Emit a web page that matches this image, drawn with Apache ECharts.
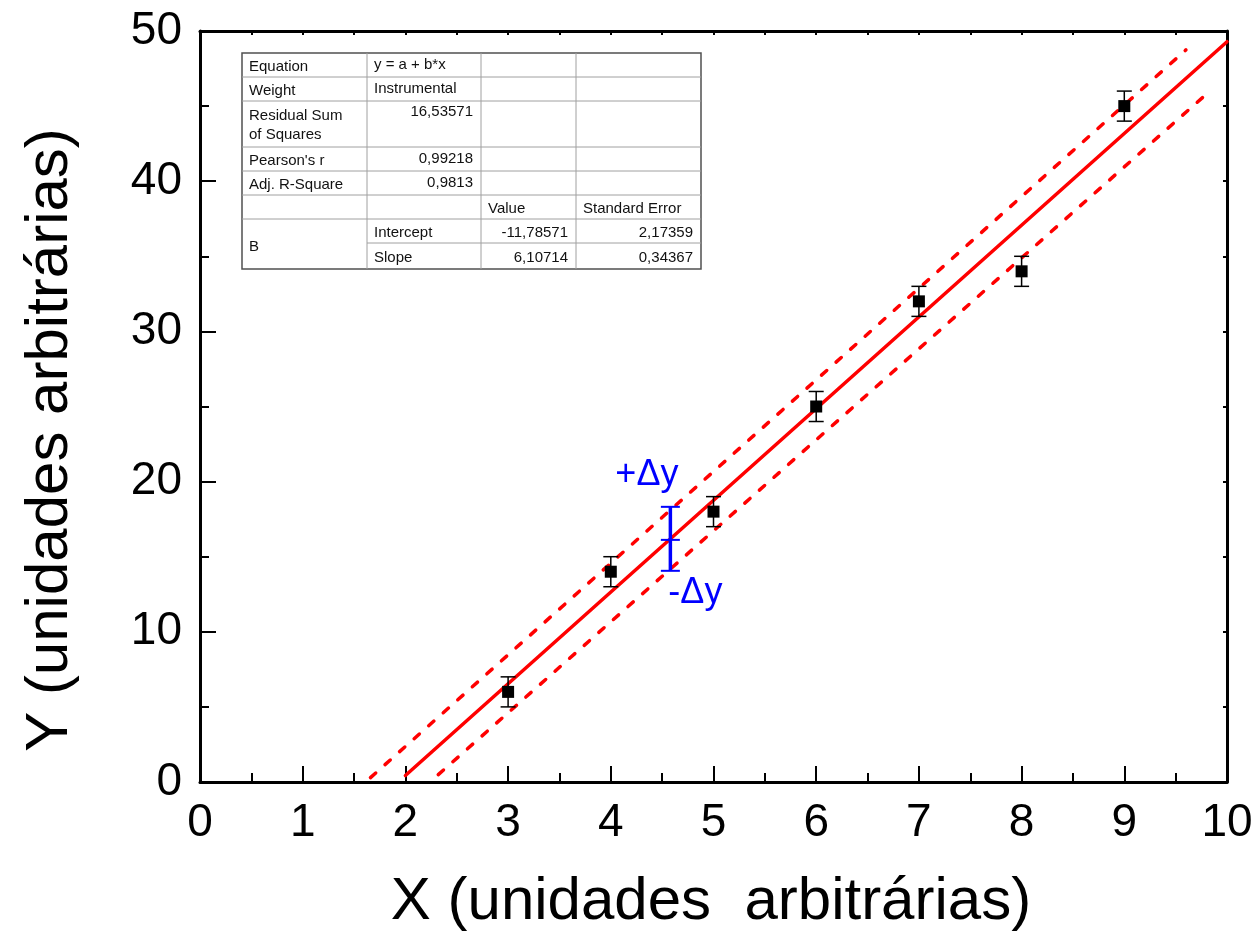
<!DOCTYPE html>
<html>
<head>
<meta charset="utf-8">
<title>Ajuste linear</title>
<script src="https://cdn.jsdelivr.net/npm/echarts@6/dist/echarts.min.js"></script>
<style>
  html, body { margin: 0; padding: 0; background: #fff; }
  #chart { width: 1256px; height: 935px; }
</style>
</head>
<body>
<div id="chart"></div>
<script>
// Measured points with their uncertainties
const xValues = [3, 4, 5, 6, 7, 8, 9];
const yValues = [6, 14, 18, 25, 32, 34, 45];
const yErrors = [1, 1, 1, 1, 1, 1, 1];

// Linear fit y = a + b*x
const fitIntercept = -11.78571;
const fitSlope = 6.10714;
const fitRangeX = [2, 10];

// Dashed bounds (start and end points)
const upperBound = [[1.66, 0.29], [9.60, 48.74]];
const lowerBound = [[2.32, 0.49], [9.80, 45.8]];

// Δy marker: x, lower end, centre, upper end
const deltaMarker = [4.58, 14.06, 16.12, 18.32];

// Axis ticks
const xTicks = { min: 0, max: 10, step: 1 };
const yTicks = { min: 0, max: 50, step: 10 };

// Fit report table
const tableRows = [
  ['Equation', 'y = a + b*x', '', ''],
  ['Weight', 'Instrumental', '', ''],
  ['Residual Sum\nof Squares', '16,53571', '', ''],
  ["Pearson's r", '0,99218', '', ''],
  ['Adj. R-Square', '0,9813', '', ''],
  ['', '', 'Value', 'Standard Error'],
  ['B', 'Intercept', '-11,78571', '2,17359'],
  ['', 'Slope', '6,10714', '0,34367']
];

const FONT = "'Liberation Sans', Arial, sans-serif";

const pointData = xValues.map((x, i) => [x, yValues[i], yErrors[i]]);
const fitData = fitRangeX.map(x => [x, fitIntercept + fitSlope * x]);

// ---- table graphics ----
const colX = [242, 367, 481, 576, 701];
const rowY = [53, 77, 101, 147, 171, 195, 219, 243, 269];
const tableEls = [];
const gridColor = '#a0a0a0';
function hLine(y, x1, x2) {
  tableEls.push({ type: 'line', shape: { x1: x1, y1: y, x2: x2, y2: y }, style: { stroke: gridColor, lineWidth: 1 } });
}
function vLine(x, y1, y2) {
  tableEls.push({ type: 'line', shape: { x1: x, y1: y1, x2: x, y2: y2 }, style: { stroke: gridColor, lineWidth: 1 } });
}
tableEls.push({ type: 'rect', shape: { x: colX[0], y: rowY[0], width: colX[4] - colX[0], height: rowY[8] - rowY[0] },
  style: { fill: '#fff', stroke: '#505050', lineWidth: 1.5 }, z: 0 });
for (let r = 1; r < 8; r++) {
  if (r === 7) hLine(rowY[r], colX[1], colX[4]);
  else hLine(rowY[r], colX[0], colX[4]);
}
for (let c = 1; c < 4; c++) vLine(colX[c], rowY[0], rowY[8]);

function cellText(text, x, y, align) {
  tableEls.push({ type: 'text', x: x, y: y, z: 2,
    style: { text: text, fill: '#111', font: '15px ' + FONT, textAlign: align, textVerticalAlign: 'middle' } });
}
const padL = 7, padR = 8;
tableRows.forEach((row, r) => {
  row.forEach((txt, c) => {
    if (!txt) return;
    let cy = (rowY[r] + rowY[r + 1]) / 2 + 1.5;
    if (r === 6 && c === 0) cy = (rowY[6] + rowY[8]) / 2 + 3;
    const numeric = /^-?\d/.test(txt);
    if (r === 2 && c === 0) {
      const parts = txt.split('\n');
      cellText(parts[0], colX[0] + padL, rowY[2] + 15, 'left');
      cellText(parts[1], colX[0] + padL, rowY[2] + 34, 'left');
      return;
    }
    if (r === 2 && c === 1) cy = rowY[2] + 12.5;
    if (c >= 1 && r <= 4) cy -= 1.5;
    if (numeric) cellText(txt, colX[c + 1] - padR, cy, 'right');
    else cellText(txt, colX[c] + padL, cy, 'left');
  });
});

const chart = echarts.init(document.getElementById('chart'), null, { renderer: 'canvas' });

const axisLineStyle = { color: '#000', width: 3 };
function mainAxis(t, pos, isY) {
  return {
    type: 'value', position: pos, min: t.min, max: t.max, interval: t.step,
    axisLine: { show: true, onZero: false, lineStyle: axisLineStyle },
    axisTick: { show: true, inside: true, length: 16, lineStyle: { color: '#000', width: 2 } },
    minorTick: { show: true, splitNumber: 2, length: 9, lineStyle: { color: '#000', width: 2 } },
    axisLabel: { show: true, inside: false, color: '#000', fontSize: 46, fontFamily: FONT, margin: isY ? 18 : 18 },
    splitLine: { show: false }, minorSplitLine: { show: false }
  };
}
function mirrorAxis(t, pos) {
  return {
    type: 'value', position: pos, min: t.min, max: t.max, interval: t.step,
    axisLine: { show: true, onZero: false, lineStyle: axisLineStyle },
    axisTick: { show: true, inside: true, length: 4, lineStyle: { color: '#000', width: 2 } },
    minorTick: { show: true, splitNumber: 2, length: 4, lineStyle: { color: '#000', width: 2 } },
    axisLabel: { show: false }, splitLine: { show: false }
  };
}

chart.setOption({
  animation: false,
  backgroundColor: '#fff',
  grid: { left: 200, right: 29, top: 31, bottom: 153, containLabel: false },
  xAxis: [mainAxis(xTicks, 'bottom', false), mirrorAxis(xTicks, 'top')],
  yAxis: [mainAxis(yTicks, 'left', true), mirrorAxis(yTicks, 'right')],
  graphic: [
    { type: 'text', x: 711, y: 902, style: { text: 'X (unidades  arbitrárias)', fill: '#000', font: '60px ' + FONT, textAlign: 'center', textVerticalAlign: 'middle' } },
    { type: 'text', x: 50, y: 440, rotation: Math.PI / 2, style: { text: 'Y (unidades arbitrárias)', fill: '#000', font: '60px ' + FONT, textAlign: 'center', textVerticalAlign: 'middle' } },
    { type: 'group', children: tableEls, z: 100 }
  ],
  series: [
    {
      name: 'fit', type: 'line', data: fitData, showSymbol: false, symbol: 'none',
      lineStyle: { color: '#ff0000', width: 3.5, cap: 'round' }, z: 3
    },
    {
      name: 'upper', type: 'line', data: upperBound, showSymbol: false, symbol: 'none',
      lineStyle: { color: '#ff0000', width: 3.5, type: [7, 12.5], cap: 'round' }, z: 3
    },
    {
      name: 'lower', type: 'line', data: lowerBound, showSymbol: false, symbol: 'none',
      lineStyle: { color: '#ff0000', width: 3.5, type: [7, 12.5], cap: 'round' }, z: 3
    },
    {
      name: 'errors', type: 'custom', data: pointData, z: 4,
      renderItem: function (params, api) {
        const x = api.value(0), y = api.value(1), e = api.value(2);
        const top = api.coord([x, y + e]);
        const bot = api.coord([x, y - e]);
        const hw = 7.5;
        const st = { stroke: '#000', lineWidth: 1.5, fill: null };
        return {
          type: 'group',
          children: [
            { type: 'line', shape: { x1: top[0], y1: top[1], x2: bot[0], y2: bot[1] }, style: st },
            { type: 'line', shape: { x1: top[0] - hw, y1: top[1], x2: top[0] + hw, y2: top[1] }, style: st },
            { type: 'line', shape: { x1: bot[0] - hw, y1: bot[1], x2: bot[0] + hw, y2: bot[1] }, style: st }
          ]
        };
      }
    },
    {
      name: 'points', type: 'scatter', data: pointData, symbol: 'rect', symbolSize: 12,
      itemStyle: { color: '#000', opacity: 1 }, z: 5
    },
    {
      name: 'delta', type: 'custom', data: [deltaMarker], z: 6,
      renderItem: function (params, api) {
        const x = api.value(0);
        const lo = api.coord([x, api.value(1)]);
        const mid = api.coord([x, api.value(2)]);
        const hi = api.coord([x, api.value(3)]);
        const hw = 9.5;
        const cap = { stroke: '#0000ff', lineWidth: 2 };
        return {
          type: 'group',
          children: [
            { type: 'line', shape: { x1: hi[0], y1: hi[1], x2: lo[0], y2: lo[1] }, style: { stroke: '#0000ff', lineWidth: 3.5 } },
            { type: 'line', shape: { x1: hi[0] - hw, y1: hi[1], x2: hi[0] + hw, y2: hi[1] }, style: cap },
            { type: 'line', shape: { x1: mid[0] - hw, y1: mid[1], x2: mid[0] + hw, y2: mid[1] }, style: cap },
            { type: 'line', shape: { x1: lo[0] - hw, y1: lo[1], x2: lo[0] + hw, y2: lo[1] }, style: cap },
            { type: 'text', x: hi[0] - 55, y: hi[1] - 32, style: { text: '+Δy', fill: '#0000ff', font: '36px ' + FONT, textAlign: 'left', textVerticalAlign: 'middle' } },
            { type: 'text', x: lo[0] - 2, y: lo[1] + 22, style: { text: '-Δy', fill: '#0000ff', font: '36px ' + FONT, textAlign: 'left', textVerticalAlign: 'middle' } }
          ]
        };
      }
    }
  ]
});
</script>
</body>
</html>
